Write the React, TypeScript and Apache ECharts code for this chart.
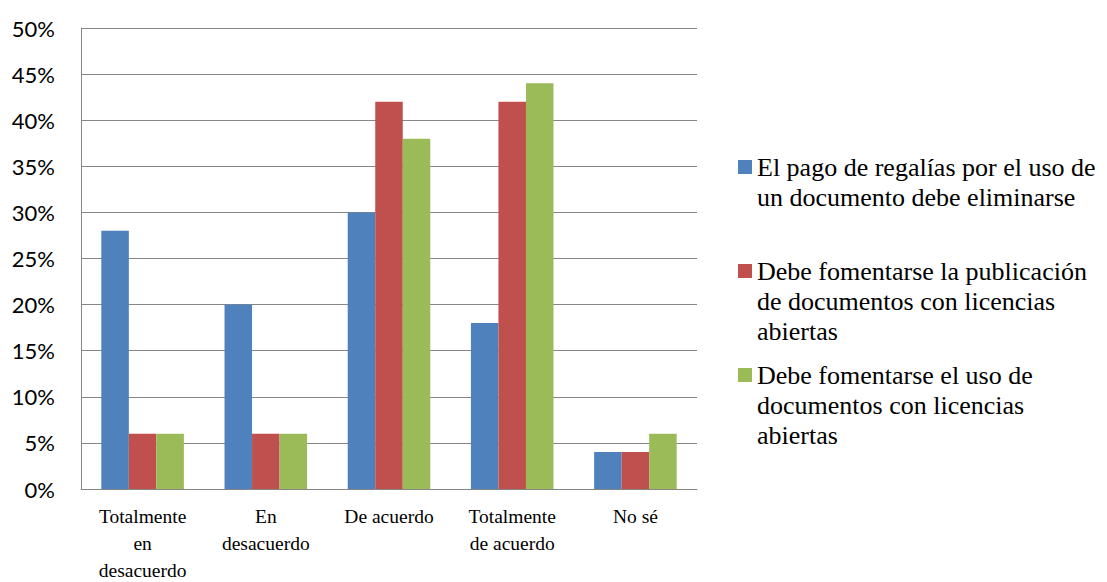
import React, { useEffect, useRef } from "react";
import * as echarts from "echarts";

const categories = [
  "Totalmente\nen\ndesacuerdo",
  "En\ndesacuerdo",
  "De acuerdo",
  "Totalmente\nde acuerdo",
  "No sé",
];
const seriesNames = [
  "El pago de regalías por el uso de un documento debe eliminarse",
  "Debe fomentarse la publicación de documentos con licencias abiertas",
  "Debe fomentarse el uso de documentos con licencias abiertas",
];
const legendLabels = [
  "El pago de regalías por el uso de\nun documento debe eliminarse\n ",
  "Debe fomentarse la publicación\nde documentos con licencias\nabiertas",
  "Debe fomentarse el uso de\ndocumentos con licencias\nabiertas",
];
const pagoRegalias = [28, 20, 30, 18, 4];
const fomentarPublicacion = [6, 6, 42, 42, 4];
const fomentarUso = [6, 6, 38, 44, 6];
const colors = ["#4F81BD", "#C0504D", "#9BBB59"];

export default function App() {
  const ref = useRef<HTMLDivElement>(null);
  useEffect(() => {
    if (!ref.current) return;
    const chart = echarts.init(ref.current, null, { renderer: "svg" });
    const values = [pagoRegalias, fomentarPublicacion, fomentarUso];
    const icon = "path://M0,0H14V14H0Z M0,74L0.01,74";
    const serif = "'Liberation Serif', 'Times New Roman', serif";
    chart.setOption({
      animation: false,
      color: colors,
      textStyle: { fontFamily: serif },
      grid: { left: 73, right: 402, top: 20, bottom: 93, containLabel: false, outerBoundsMode: "none" },
      legend: {
        orient: "vertical",
        left: 725,
        top: 139,
        itemWidth: 14,
        itemHeight: 74,
        itemGap: 14,
        icon,
        data: seriesNames,
        formatter: (name: string) => legendLabels[seriesNames.indexOf(name)],
        selectedMode: false,
        textStyle: {
          fontFamily: serif,
          fontSize: 26,
          lineHeight: 30,
          color: "#000",
        },
      },
      xAxis: {
        type: "category",
        data: categories,
        axisLine: { lineStyle: { color: "#868686", width: 1 } },
        axisTick: { show: false },
        axisLabel: {
          interval: 0,
          margin: 14,
          fontFamily: serif,
          fontSize: 19.5,
          lineHeight: 27,
          color: "#000",
        },
      },
      yAxis: {
        type: "value",
        min: 0,
        max: 50,
        interval: 5,
        axisLine: { show: true, lineStyle: { color: "#868686", width: 1 } },
        axisTick: { show: false },
        splitLine: { lineStyle: { color: "#868686", width: 1 } },
        axisLabel: {
          formatter: "{value}%",
          margin: 26,
          fontFamily: "Lato",
          fontSize: 22,
          color: "#000",
        },
      },
      series: values.map((v, i) => ({
        name: seriesNames[i],
        type: "bar",
        data: v,
        barGap: "0%",
        barCategoryGap: "33%",
        itemStyle: { color: colors[i] },
      })),
    });
    return () => chart.dispose();
  }, []);
  return <div ref={ref} style={{ width: 1091, height: 574 }} />;
}
